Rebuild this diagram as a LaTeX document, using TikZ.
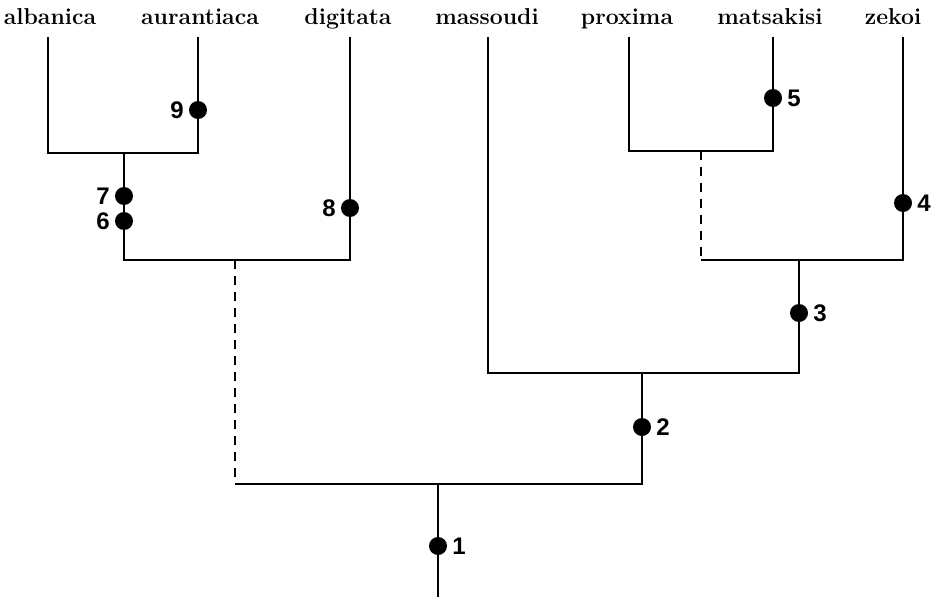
\documentclass[tikz,border=0pt]{standalone}
\usepackage{fontspec}
\setsansfont{Liberation Sans}
\begin{document}
\begin{tikzpicture}[x=1pt,y=-1pt,
  taxon/.style={font=\fontsize{23}{23}\selectfont\bfseries, anchor=base, inner sep=0},
  dot/.style={circle, fill=black, minimum size=18pt, inner sep=0},
  num/.style={font=\fontsize{24}{24}\selectfont\sffamily\bfseries, inner sep=0},
  br/.style={line width=1.8pt},
  dsh/.style={line width=1.8pt, dash pattern=on 9pt off 7pt}]
\useasboundingbox (0,0) rectangle (938,597);
% taxa
\node[taxon] (alb) at (50,24) {albanica};
\node[taxon] (aur) at (200,24) {aurantiaca};
\node[taxon] (dig) at (348,24) {digitata};
\node[taxon] (mas) at (487,24) {massoudi};
\node[taxon] (pro) at (627,24) {proxima};
\node[taxon] (mat) at (770,24) {matsakisi};
\node[taxon] (zek) at (893,24) {zekoi};
% coordinates
\coordinate (aT) at (48,37);  \coordinate (aB) at (48,153);
\coordinate (bT) at (198,37); \coordinate (bB) at (198,153);
\coordinate (c1) at (124,153); \coordinate (c2) at (124,260);
\coordinate (dT) at (350,37); \coordinate (dB) at (350,260);
\coordinate (e1) at (235,260); \coordinate (e2) at (235,484);
\coordinate (mT) at (488,37); \coordinate (mB) at (488,373);
\coordinate (pT) at (629,37); \coordinate (pB) at (629,151);
\coordinate (qT) at (773,37); \coordinate (qB) at (773,151);
\coordinate (f1) at (701,151); \coordinate (f2) at (701,260);
\coordinate (zT) at (903,37); \coordinate (zB) at (903,260);
\coordinate (g1) at (799,260); \coordinate (g2) at (799,373);
\coordinate (h1) at (642,373); \coordinate (h2) at (642,484);
\coordinate (r1) at (438,484); \coordinate (r2) at (438,597);
% branches
\draw[br] (aT) -- (aB) -- (bB) -- (bT);
\draw[br] (c1) -- (c2) -- (dB) -- (dT);
\draw[dsh] (e1) -- (e2);
\draw[br] (e2) -- (h2) -- (h1);
\draw[br] (mT) -- (mB) -- (g2) -- (g1);
\draw[br] (pT) -- (pB) -- (qB) -- (qT);
\draw[dsh] (f1) -- (f2);
\draw[br] (f2) -- (zB) -- (zT);
\draw[br] (r1) -- (r2);
% dots
\node[dot] (d9) at (198,110) {};
\node[dot] (d7) at (124,196) {};
\node[dot] (d6) at (124,221) {};
\node[dot] (d8) at (350,208) {};
\node[dot] (d5) at (773,98) {};
\node[dot] (d4) at (903,203) {};
\node[dot] (d3) at (799,313) {};
\node[dot] (d2) at (642,427) {};
\node[dot] (d1) at (438,546) {};
% numbers
\node[num, anchor=east] (n9) at ([xshift=-5pt]d9.west) {9};
\node[num, anchor=east] (n7) at ([xshift=-5pt]d7.west) {7};
\node[num, anchor=east] (n6) at ([xshift=-5pt]d6.west) {6};
\node[num, anchor=east] (n8) at ([xshift=-5pt]d8.west) {8};
\node[num, anchor=west] (n5) at ([xshift=5pt]d5.east) {5};
\node[num, anchor=west] (n4) at ([xshift=5pt]d4.east) {4};
\node[num, anchor=west] (n3) at ([xshift=5pt]d3.east) {3};
\node[num, anchor=west] (n2) at ([xshift=5pt]d2.east) {2};
\node[num, anchor=west] (n1) at ([xshift=5pt]d1.east) {1};
\end{tikzpicture}
\end{document}
